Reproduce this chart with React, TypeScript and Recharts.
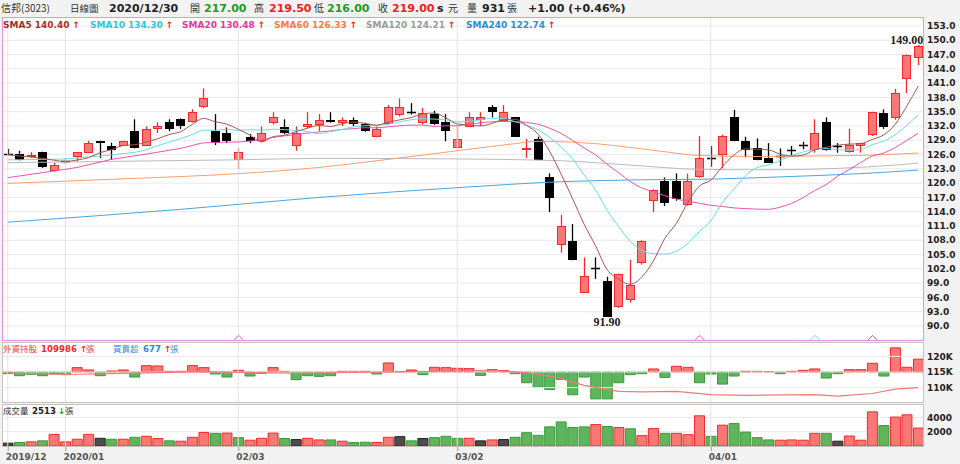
import React from "react";
import {
  ComposedChart,
  Bar,
  Line,
  XAxis,
  YAxis,
  CartesianGrid,
  ReferenceLine,
  ReferenceDot,
  Cell,
} from "recharts";

// daily candles
const openPx = [
  126.2, 126.1, 125.4, 126.5, 122.5, 124.6, 125.4, 126.4, 128.9, 127.9,
  127.9, 131.0, 127.9, 131.4, 132.8, 133.4, 132.8, 135.9, 131.0, 130.5,
  124.9, 129.75, 128.85, 132.7, 131.85, 127.9, 131.7, 132.3, 133.3, 132.55,
  133.3, 132.4, 129.75, 132.4, 134.4, 135.0, 132.7, 134.5, 132.8, 127.4,
  131.85, 133.3, 135.9, 133.1, 133.8, 127.0, 129.2, 121.35, 106.95, 107.9,
  97.0, 102.1, 99.5, 93.9, 95.5, 103.3, 116.3, 120.5, 120.5, 115.35,
  121.2, 125.2, 125.9, 133.8, 128.85, 127.45, 125.35, 125.6, 126.9, 128.0,
  126.95, 132.8, 127.7, 126.5, 127.9, 130.1, 134.8, 133.6, 141.8, 146.2,
];
const highPx = [
  127.2, 126.8, 126.5, 126.6, 124.3, 125.3, 126.6, 128.9, 128.9, 128.5,
  128.9, 133.4, 131.9, 132.8, 133.4, 133.6, 135.5, 139.9, 134.5, 131.7,
  127.4, 130.3, 131.9, 134.9, 133.4, 131.9, 134.9, 134.5, 134.9, 133.8,
  133.8, 132.7, 131.9, 136.4, 137.8, 136.8, 135.8, 135.2, 134.5, 132.0,
  134.9, 134.9, 136.4, 136.4, 133.9, 129.3, 129.75, 122.05, 113.3, 111.4,
  104.4, 104.4, 100.35, 101.0, 103.9, 108.0, 118.7, 121.2, 122.05, 122.0,
  129.9, 127.8, 130.2, 135.4, 129.75, 129.4, 128.4, 127.3, 127.8, 128.7,
  133.4, 133.8, 128.4, 131.4, 128.5, 135.0, 135.5, 139.8, 147.0, 149.0,
];
const lowPx = [
  125.9, 124.8, 125.3, 123.2, 122.4, 124.0, 124.4, 126.3, 125.3, 124.9,
  127.8, 127.3, 127.8, 130.5, 130.9, 131.4, 132.7, 135.8, 128.0, 128.4,
  122.9, 128.4, 128.6, 132.3, 130.3, 126.8, 131.5, 130.9, 132.7, 132.0,
  132.0, 130.8, 129.65, 132.3, 134.0, 134.4, 132.3, 132.25, 128.8, 127.3,
  131.75, 132.0, 133.8, 133.0, 129.65, 125.3, 124.8, 113.9, 105.4, 103.8,
  96.9, 99.9, 91.9, 93.8, 94.9, 102.9, 113.9, 115.2, 116.3, 115.25,
  121.1, 123.45, 123.1, 128.8, 125.4, 124.8, 124.2, 123.6, 125.9, 127.1,
  126.4, 126.85, 126.4, 126.4, 126.4, 129.9, 131.4, 133.3, 138.9, 144.8,
];
const closePx = [
  126.0, 124.9, 126.0, 123.3, 123.9, 124.6, 126.5, 128.5, 128.5, 127.0,
  128.9, 127.4, 131.4, 131.9, 131.4, 132.0, 134.9, 137.8, 128.4, 128.9,
  126.6, 128.9, 130.5, 133.8, 130.5, 130.5, 132.4, 133.3, 132.8, 133.3,
  132.35, 131.0, 131.4, 135.9, 135.9, 134.8, 134.8, 132.35, 130.9, 129.3,
  133.8, 133.8, 134.9, 134.9, 129.75, 127.3, 124.9, 116.8, 111.0, 103.9,
  100.5, 102.0, 91.9, 100.9, 98.55, 107.9, 118.6, 115.8, 116.7, 120.5,
  125.2, 125.0, 129.9, 128.9, 126.95, 124.9, 124.3, 125.5, 126.8, 127.9,
  130.5, 126.95, 127.65, 127.95, 128.4, 134.9, 131.7, 138.9, 146.85, 148.8,
];

// moving averages
const sma5 = [
  126.0, 125.7, 125.5, 125.2, 124.82, 124.54, 124.86, 125.36, 126.4, 127.02,
  127.88, 128.06, 128.64, 129.32, 130.2, 130.82, 132.32, 133.6, 132.9, 132.4,
  131.32, 130.12, 128.66, 129.74, 130.06, 130.84, 131.54, 132.1, 131.9, 132.46,
  132.83, 132.55, 132.17, 132.79, 133.29, 133.78, 134.54, 134.73, 133.73, 132.43,
  132.22, 132.02, 132.53, 133.33, 133.42, 132.13, 130.35, 126.73, 121.95, 116.78,
  111.42, 106.84, 101.86, 99.84, 98.77, 100.25, 103.57, 108.35, 111.51, 115.9,
  119.36, 120.64, 123.46, 125.9, 127.19, 127.13, 126.99, 126.11, 125.69, 125.88,
  127.0, 127.53, 127.96, 128.19, 128.29, 129.17, 130.12, 132.37, 136.15, 140.4,
];
const sma10 = [
  124.9, 124.9, 124.95, 125.0, 125.0, 125.1, 125.3, 125.5, 125.7, 125.92,
  126.21, 126.46, 127.0, 127.86, 128.61, 129.35, 130.19, 131.12, 131.11, 131.3,
  131.07, 131.22, 131.13, 131.32, 131.23, 131.08, 130.83, 130.38, 130.82, 131.26,
  131.84, 132.05, 132.14, 132.35, 132.88, 133.31, 133.55, 133.45, 133.26, 132.86,
  133.0, 133.28, 133.63, 133.53, 132.93, 132.18, 131.19, 129.63, 127.64, 125.1,
  121.78, 118.6, 114.3, 110.9, 107.78, 105.84, 105.2, 105.1, 105.68, 107.34,
  109.8, 112.1, 115.9, 118.7, 121.55, 123.25, 123.82, 124.79, 125.8, 126.54,
  127.07, 127.26, 127.04, 126.94, 127.09, 128.09, 128.83, 130.17, 132.17, 134.3,
];
const sma20 = [
  121.15, 121.5, 121.85, 122.2, 122.55, 122.9, 123.3, 123.85, 124.4, 125.0,
  125.35, 125.75, 126.1, 126.5, 126.9, 127.3, 127.9, 128.45, 128.55, 128.61,
  128.64, 128.84, 129.07, 129.59, 129.92, 130.22, 130.51, 130.75, 130.97, 131.28,
  131.45, 131.63, 131.63, 131.83, 132.05, 132.19, 132.19, 131.92, 132.04, 132.06,
  132.42, 132.66, 132.88, 132.94, 132.9, 132.74, 132.37, 131.54, 130.45, 128.98,
  127.39, 125.94, 123.96, 122.21, 120.35, 119.0, 118.2, 117.37, 116.66, 116.22,
  115.79, 115.35, 115.1, 114.8, 114.66, 114.54, 114.51, 114.95, 115.74, 116.94,
  118.44, 119.68, 121.47, 122.82, 124.32, 125.67, 126.32, 127.48, 128.98, 130.48,
];
// slow averages: [day index, value] read at a few days
const sma60Knots: [number, number][] = [
  [0, 119.95], [10, 120.9], [20, 122.0], [27, 123.3], [33, 125.0], [39, 126.8],
  [44, 128.3], [46, 128.8], [48, 128.7], [51, 128.3], [54, 127.5], [57, 126.6],
  [60, 125.8], [65, 125.6], [70, 125.7], [75, 125.9], [79, 126.33],
];
const sma120Knots: [number, number][] = [
  [0, 124.3], [10, 124.6], [20, 124.9], [27, 125.2], [38, 125.1], [48, 124.7],
  [54, 123.8], [60, 122.9], [66, 122.8], [72, 123.1], [77, 123.8], [79, 124.21],
];
const sma240Knots: [number, number][] = [
  [0, 111.8], [15, 114.5], [27, 117.0], [40, 119.2], [48, 120.3], [55, 120.7],
  [61, 120.85], [68, 121.4], [74, 122.0], [79, 122.74],
];

// foreign investors: net buy/sell (張) and holdings (張)
const foreignNet = [
  -80, -195, -120, -195, -100, -140, 230, 106, -195, 53,
  106, -265, 335, 318, 35, 35, 335, 230, -106, -265,
  90, -212, -70, 230, 30, -405, -195, -230, -195, 35,
  35, 35, -106, 477, 20, 106, -140, 247, 230, 195,
  177, -177, 124, 70, -88, -565, -795, -920, -390, -1200,
  -265, -1415, -1415, -565, -140, -88, 160, -283, 300, 247,
  -565, -106, -636, -212, 35, 35, 20, -88, 35, 88,
  160, -318, -88, 124, 124, 460, -212, 1272, 247, 677,
];
const holdKnots: [number, number][] = [
  [0, 114700], [5, 114200], [12, 114700], [17, 115100], [25, 114600], [33, 115000],
  [40, 115400], [42, 115500], [45, 114800], [47, 113700], [48, 112900], [50, 110700],
  [53, 108800], [55, 108600], [58, 108800], [61, 107750], [64, 107500], [70, 107750],
  [72, 107300], [75, 108100], [77, 109500], [79, 109986],
];

// volume (張) and its colour: u = up, d = down, f = flat
const volume = [
  400, 490, 580, 720, 1630, 580, 945, 1630, 1080, 945,
  945, 1220, 1360, 1040, 720, 670, 1220, 1900, 1770, 1810,
  1170, 810, 1080, 1810, 1040, 900, 1080, 850, 850, 670,
  490, 530, 490, 1220, 1310, 720, 1040, 1170, 1360, 1080,
  1080, 720, 850, 900, 1220, 1860, 1490, 2680, 3370, 2590,
  2680, 3000, 2730, 2590, 2410, 1450, 2450, 1770, 1770, 1580,
  4230, 1360, 2910, 3140, 1950, 1170, 850, 810, 850, 810,
  1770, 1770, 670, 1400, 810, 4780, 2860, 4050, 4370, 2513,
];
const volDir = [
  "f", "d", "u", "d", "u", "u", "u", "u", "f", "d",
  "u", "d", "u", "u", "d", "u", "u", "u", "d", "u",
  "d", "u", "u", "u", "d", "f", "u", "u", "d", "u",
  "d", "d", "u", "u", "f", "d", "f", "d", "d", "d",
  "u", "f", "u", "f", "d", "d", "d", "d", "d", "d",
  "d", "u", "d", "u", "d", "u", "u", "d", "u", "u",
  "u", "d", "u", "d", "d", "d", "d", "u", "u", "u",
  "u", "d", "f", "u", "u", "u", "d", "u", "u", "u",
];

const dateTicks = [
  { i: 0, label: "2019/12" },
  { i: 5, label: "2020/01" },
  { i: 20, label: "02/03" },
  { i: 39, label: "03/02" },
  { i: 61, label: "04/01" },
];
const priceTicks = [153, 150, 147, 144, 141, 138, 135, 132, 129, 126, 123, 120, 117, 114, 111, 108, 105, 102, 99, 96, 93, 90];
const holdTicks = [110000, 115000, 120000];
const volTicks = [2000, 4000];

// crossing markers at the foot of the price panel
const signals = [
  { i: 20, color: "#ee62b8" },
  { i: 60, color: "#ee62b8" },
  { i: 70, color: "#6fdde6" },
  { i: 75, color: "#a8685e" },
];

const RED_FILL = "#f87878";
const RED_EDGE = "#f22a2a";
const GREEN_FILL = "#5eb55e";
const GREEN_EDGE = "#3b993b";
const DARK_FILL = "#4d4d4d";
const DARK_EDGE = "#222";
const GRID = "#e9e9e9";

const NUM = "'DejaVu Sans', Verdana, sans-serif";
const CJK = "'Noto Sans CJK TC', 'Noto Sans CJK SC', sans-serif";

const N = closePx.length;
const spread = (knots: [number, number][]) => {
  const out: (number | null)[] = new Array(N).fill(null);
  knots.forEach(([i, v]) => {
    out[i] = v;
  });
  return out;
};
const ma60 = spread(sma60Knots);
const ma120 = spread(sma120Knots);
const ma240 = spread(sma240Knots);
const hold = spread(holdKnots);

const rows = closePx.map((c, i) => ({
  i,
  o: openPx[i],
  h: highPx[i],
  l: lowPx[i],
  c,
  range: [lowPx[i], highPx[i]],
  ma5: sma5[i],
  ma10: sma10[i],
  ma20: sma20[i],
  ma60: ma60[i],
  ma120: ma120[i],
  ma240: ma240[i],
  vol: volume[i],
  dir: volDir[i],
  net: foreignNet[i],
  hold: hold[i],
}));

const axisTick = { fontSize: 9, fontWeight: 700, fontFamily: NUM, fill: "#222" };

function Candle(props: any) {
  const { x, y, width, height, payload } = props;
  if (!payload || height == null) return null;
  const { o, h, l, c } = payload;
  const top = Math.min(y, y + height);
  const bottom = Math.max(y, y + height);
  const toY = (p: number) => top + ((h - p) / (h - l || 1)) * (bottom - top);
  const up = c > o;
  const cx = Math.round(x + width / 2);
  const bTop = Math.round(toY(Math.max(o, c)));
  const bBot = Math.round(toY(Math.min(o, c)));
  const edge = up ? RED_EDGE : "#000";
  const fill = up ? RED_FILL : "#000";
  return (
    <g>
      <line x1={cx + 0.5} x2={cx + 0.5} y1={top} y2={bottom} stroke={edge} strokeWidth={1.3} />
      {bBot - bTop < 2 ? (
        <line x1={cx - 4} x2={cx + 5} y1={bTop + 0.5} y2={bTop + 0.5} stroke={edge} strokeWidth={1.5} />
      ) : (
        <rect x={cx - 3.5} y={bTop + 0.5} width={8} height={bBot - bTop - 1} fill={fill} stroke={edge} strokeWidth={1} />
      )}
    </g>
  );
}

function DateTick(props: any) {
  const { x, y, payload } = props;
  const t = dateTicks.find((d) => d.i === payload.value);
  if (!t) return null;
  return (
    <g>
      <line x1={x + 0.5} x2={x + 0.5} y1={y} y2={y + 5} stroke="#999" />
      <text x={x - 2} y={y + 14} fontSize={9} fontWeight={700} fontFamily={NUM} fill="#555">
        {t.label}
      </text>
    </g>
  );
}

const kFormat = (v: number) => `${Math.round(v / 1000)}K`;

function Txt(p: { x: number; y: number; s: number; c: string; b?: boolean; f?: string; children: React.ReactNode }) {
  return (
    <text x={p.x} y={p.y} fontSize={p.s} fill={p.c} fontWeight={p.b ? 700 : 400} fontFamily={p.f || NUM}>
      {p.children}
    </text>
  );
}

const maLegend = [
  { x: 3, name: "SMA5 140.40", color: "#a3312b" },
  { x: 90, name: "SMA10 134.30", color: "#33c5d6" },
  { x: 182, name: "SMA20 130.48", color: "#e8389e" },
  { x: 274, name: "SMA60 126.33", color: "#ff7b3b" },
  { x: 366, name: "SMA120 124.21", color: "#9b9b9b" },
  { x: 466, name: "SMA240 122.74", color: "#2b8fd6" },
];

export default function App() {
  const abs = (top: number, height: number, extra: any = {}) => ({
    position: "absolute" as const,
    left: 2,
    top,
    width: 922,
    height,
    boxSizing: "border-box" as const,
    ...extra,
  });
  return (
    <div style={{ position: "relative", width: 960, height: 464, background: "#f2f2f2", overflow: "hidden" }}>
      <style>{"body{margin:0}"}</style>
      <div style={abs(17, 323, { background: "#fff" })} />
      <div style={abs(342, 60, { background: "#fff" })} />
      <div style={abs(404, 42, { background: "#fff" })} />

      {/* price panel */}
      <div style={{ position: "absolute", left: 0, top: 17 }}>
        <ComposedChart width={960} height={323} data={rows} margin={{ top: 0, right: 0, bottom: 0, left: 2 }}>
          <CartesianGrid stroke={GRID} vertical={false} />
          <XAxis dataKey="i" type="category" hide />
          <YAxis
            orientation="right"
            width={36}
            domain={[87.06, 154.89]}
            ticks={priceTicks}
            interval={0}
            allowDataOverflow
            axisLine={false}
            tickLine={false}
            tickSize={0}
            tickMargin={3}
            tick={axisTick}
            tickFormatter={(v: number) => v.toFixed(1)}
          />
          {dateTicks.map((t) => (
            <ReferenceLine key={t.i} x={t.i} stroke="#e4e4e4" />
          ))}
          <Bar dataKey="range" barSize={9} shape={<Candle />} isAnimationActive={false} />
          <Line dataKey="ma240" type="monotone" stroke="#4aa6df" dot={false} connectNulls strokeWidth={1} isAnimationActive={false} />
          <Line dataKey="ma120" type="monotone" stroke="#bbbbbb" dot={false} connectNulls strokeWidth={1} isAnimationActive={false} />
          <Line dataKey="ma60" type="monotone" stroke="#f9a072" dot={false} connectNulls strokeWidth={1} isAnimationActive={false} />
          <Line dataKey="ma20" type="monotone" stroke="#ee52ae" dot={false} strokeWidth={1} isAnimationActive={false} />
          <Line dataKey="ma10" type="monotone" stroke="#66dde6" dot={false} strokeWidth={1} isAnimationActive={false} />
          <Line dataKey="ma5" type="monotone" stroke="#a8564e" dot={false} strokeWidth={1} isAnimationActive={false} />
          <ReferenceDot
            x={79}
            y={149}
            shape={(p: any) => (
              <text x={p.cx + 5} y={p.cy - 1} textAnchor="end" fontSize={12} fontWeight={700} fontFamily="'Liberation Serif', serif" fill="#222">
                149.00
              </text>
            )}
          />
          <ReferenceDot
            x={52}
            y={91.9}
            shape={(p: any) => (
              <text x={p.cx} y={p.cy + 9} textAnchor="middle" fontSize={12} fontWeight={700} fontFamily="'Liberation Serif', serif" fill="#222">
                91.90
              </text>
            )}
          />
          {signals.map((s) => (
            <ReferenceDot
              key={s.i}
              x={s.i}
              y={87.5}
              shape={(p: any) => (
                <polyline
                  points={`${p.cx - 4},${p.cy + 2} ${p.cx + 0.5},${p.cy - 2.5} ${p.cx + 5},${p.cy + 2}`}
                  fill="none"
                  stroke={s.color}
                  strokeWidth={1}
                />
              )}
            />
          ))}
        </ComposedChart>
      </div>

      {/* foreign holdings panel */}
      <div style={{ position: "absolute", left: 0, top: 342 }}>
        <ComposedChart width={960} height={60} data={rows} margin={{ top: 0, right: 0, bottom: 0, left: 2 }}>
          <XAxis dataKey="i" type="category" hide />
          <YAxis yAxisId="net" hide domain={[-1580, 1580]} allowDataOverflow />
          <YAxis
            yAxisId="hold"
            orientation="right"
            width={36}
            domain={[105385, 124615]}
            ticks={holdTicks}
            interval={0}
            allowDataOverflow
            axisLine={false}
            tickLine={false}
            tickSize={0}
            tickMargin={3}
            tick={axisTick}
            tickFormatter={kFormat}
          />
          {holdTicks.map((v) => (
            <ReferenceLine key={v} yAxisId="hold" y={v} stroke={GRID} />
          ))}
          {dateTicks.map((t) => (
            <ReferenceLine key={t.i} yAxisId="hold" x={t.i} stroke="#e4e4e4" />
          ))}
          <Bar yAxisId="net" dataKey="net" barSize={10} isAnimationActive={false}>
            {rows.map((r) => (
              <Cell key={r.i} fill={r.net >= 0 ? RED_FILL : GREEN_FILL} stroke={r.net >= 0 ? RED_EDGE : GREEN_EDGE} />
            ))}
          </Bar>
          <Line yAxisId="hold" dataKey="hold" type="linear" stroke="#f07a7a" strokeWidth={1.2} dot={false} connectNulls isAnimationActive={false} />
        </ComposedChart>
      </div>

      {/* volume panel */}
      <div style={{ position: "absolute", left: 0, top: 404 }}>
        <ComposedChart width={960} height={60} data={rows} margin={{ top: 0, right: 0, bottom: 0, left: 2 }}>
          <CartesianGrid stroke={GRID} vertical={false} />
          <XAxis
            dataKey="i"
            type="category"
            height={18}
            interval={0}
            axisLine={false}
            tickLine={false}
            tickSize={0}
            tickMargin={0}
            tick={<DateTick />}
          />
          <YAxis
            orientation="right"
            width={36}
            domain={[0, 5880]}
            ticks={volTicks}
            interval={0}
            allowDataOverflow
            axisLine={false}
            tickLine={false}
            tickSize={0}
            tickMargin={3}
            tick={axisTick}
          />
          {dateTicks.map((t) => (
            <ReferenceLine key={t.i} x={t.i} stroke="#e4e4e4" />
          ))}
          <Bar dataKey="vol" barSize={10} isAnimationActive={false}>
            {rows.map((r) => (
              <Cell
                key={r.i}
                fill={r.dir === "u" ? RED_FILL : r.dir === "d" ? GREEN_FILL : DARK_FILL}
                stroke={r.dir === "u" ? RED_EDGE : r.dir === "d" ? GREEN_EDGE : DARK_EDGE}
              />
            ))}
          </Bar>
        </ComposedChart>
      </div>

      {/* frames */}
      <div style={abs(17, 324, { border: "1px solid #ec8fec", pointerEvents: "none" })} />
      <div style={abs(342, 61, { border: "1px solid #c9c2bb", pointerEvents: "none" })} />
      <div style={abs(404, 43, { border: "1px solid #c9c2bb", pointerEvents: "none" })} />

      {/* header and legends */}
      <svg width={960} height={464} style={{ position: "absolute", left: 0, top: 0, pointerEvents: "none" }}>
        <Txt x={1} y={12} s={10} c="#333" f={CJK}>信邦(3023)</Txt>
        <Txt x={70} y={12} s={9.5} c="#333" f={CJK}>日線圖</Txt>
        <Txt x={109} y={12} s={11} c="#222" b>2020/12/30</Txt>
        <Txt x={190} y={12} s={10} c="#333" f={CJK}>開</Txt>
        <Txt x={204} y={12} s={11} c="#1f9a1f" b>217.00</Txt>
        <Txt x={254} y={12} s={10} c="#333" f={CJK}>高</Txt>
        <Txt x={269} y={12} s={11} c="#ee2020" b>219.50</Txt>
        <Txt x={314} y={12} s={10} c="#333" f={CJK}>低</Txt>
        <Txt x={327} y={12} s={11} c="#1f9a1f" b>216.00</Txt>
        <Txt x={378} y={12} s={10} c="#333" f={CJK}>收</Txt>
        <Txt x={392} y={12} s={11} c="#ee2020" b>219.00</Txt>
        <Txt x={437} y={12} s={11} c="#222" b>s</Txt>
        <Txt x={448} y={12} s={10} c="#333" f={CJK}>元</Txt>
        <Txt x={467} y={12} s={10} c="#333" f={CJK}>量</Txt>
        <Txt x={482} y={12} s={11} c="#222" b>931</Txt>
        <Txt x={507} y={12} s={10} c="#333" f={CJK}>張</Txt>
        <Txt x={528} y={12} s={11} c="#222" b>+1.00 (+0.46%)</Txt>

        {maLegend.map((m) => (
          <text key={m.name} x={m.x} y={28} fontSize={9} fontWeight={700} fontFamily={NUM}>
            <tspan fill={m.color}>{m.name}</tspan>
            <tspan dx={3} fill="#ee1c1c">↑</tspan>
          </text>
        ))}

        <Txt x={3} y={352} s={8.5} c="#f03c3c" f={CJK}>外資持股</Txt>
        <Txt x={41} y={352} s={8.6} c="#f02828" b>109986</Txt>
        <Txt x={80} y={352} s={8.6} c="#f02828" b>↑</Txt>
        <Txt x={86} y={352} s={8.5} c="#f03c3c" f={CJK}>張</Txt>
        <Txt x={113} y={352} s={8.5} c="#3d8ad6" f={CJK}>買賣超</Txt>
        <Txt x={143} y={352} s={8.6} c="#2f86d6" b>677</Txt>
        <Txt x={164} y={352} s={8.6} c="#f02828" b>↑</Txt>
        <Txt x={170} y={352} s={8.5} c="#3d8ad6" f={CJK}>張</Txt>

        <Txt x={3} y={414} s={8.5} c="#333" f={CJK}>成交量</Txt>
        <Txt x={32} y={414} s={8.6} c="#222" b>2513</Txt>
        <Txt x={58} y={414} s={8.6} c="#1f9a1f" b>↓</Txt>
        <Txt x={65} y={414} s={8.5} c="#333" f={CJK}>張</Txt>
      </svg>
    </div>
  );
}
